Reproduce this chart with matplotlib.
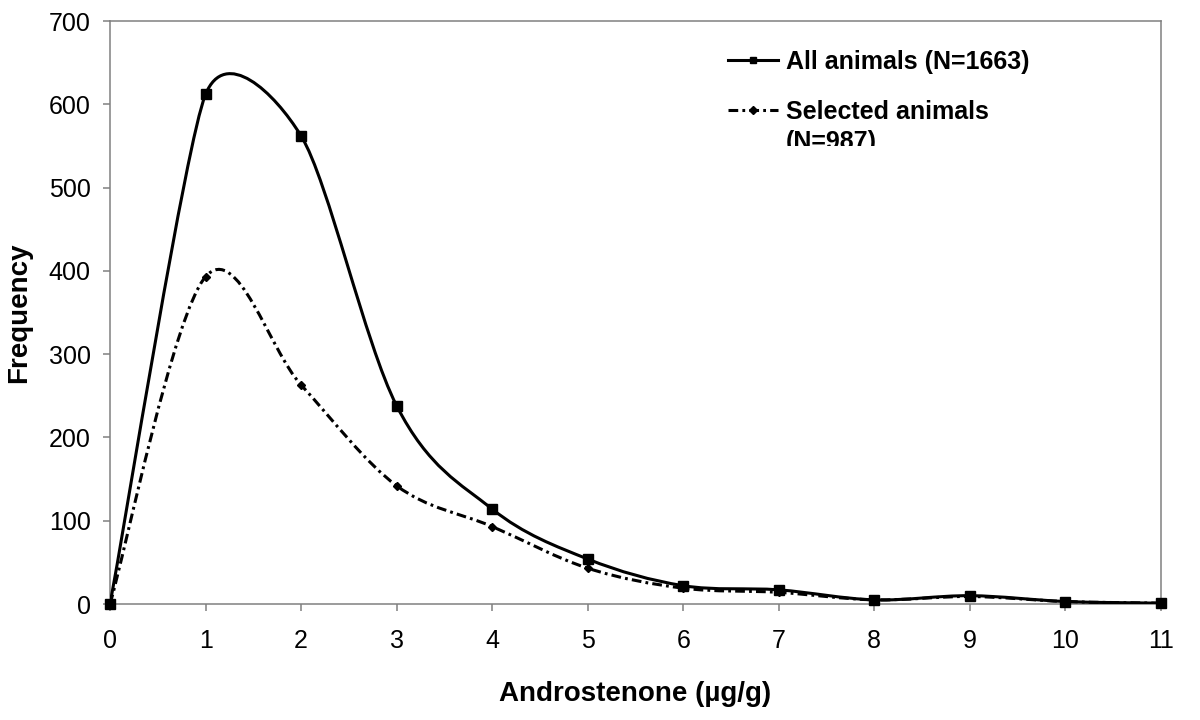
import numpy as np
import matplotlib
matplotlib.use('Agg')
import matplotlib.pyplot as plt
from matplotlib.path import Path
from matplotlib.patches import PathPatch, Rectangle
from matplotlib.lines import Line2D

# data
androstenone = [0, 1, 2, 3, 4, 5, 6, 7, 8, 9, 10, 11]
all_animals = [0, 612, 562, 238, 114, 54, 22, 17, 5, 10, 3, 1]
selected_animals = [0, 393, 263, 142, 93, 43, 19, 14, 5, 9, 3, 1]

plt.rcParams['font.family'] = ['Liberation Sans', 'DejaVu Sans']
plt.rcParams['lines.scale_dashes'] = False


def smooth_path(ax, x, y):
    # excel-like smoothed line, bezier arms worked out in screen space
    pts = ax.transData.transform(np.column_stack([x, y]).astype(float))
    n = len(pts)
    arms = []
    for i in range(n):
        pa = pts[max(i - 1, 0)]
        pb = pts[min(i + 1, n - 1)]
        d02 = np.hypot(*(pb - pa))
        s = 1 / 6
        if d02 > 0:
            if i > 0:
                s = min(s, np.hypot(*(pts[i] - pa)) / (2 * d02))
            if i < n - 1:
                s = min(s, np.hypot(*(pb - pts[i])) / (2 * d02))
        arms.append((pb - pa) * s)
    verts = [pts[0]]
    codes = [Path.MOVETO]
    for i in range(n - 1):
        verts += [pts[i] + arms[i], pts[i + 1] - arms[i + 1], pts[i + 1]]
        codes += [Path.CURVE4] * 3
    verts = ax.transData.inverted().transform(np.array(verts))
    return Path(verts, codes)


dash = (0, (7, 3, 2, 3))
lw = 2.2

fig = plt.figure(figsize=(12, 7.2), dpi=100)
ax = fig.add_axes([0.0917, 0.1611, 0.8758, 0.8097])
ax.set_xlim(0, 11)
ax.set_ylim(0, 700)

ax.add_patch(PathPatch(smooth_path(ax, androstenone, selected_animals), fill=False,
                       edgecolor='black', linewidth=lw, linestyle=dash, zorder=3))
ax.plot(androstenone, selected_animals, linestyle='none', marker='D',
        markersize=4.5, color='black', zorder=4, clip_on=False)

ax.add_patch(PathPatch(smooth_path(ax, androstenone, all_animals), fill=False,
                       edgecolor='black', linewidth=lw, zorder=5))
ax.plot(androstenone, all_animals, linestyle='none', marker='s',
        markersize=6.5, color='black', zorder=6, clip_on=False)

ax.set_xticks(range(0, 12))
ax.set_yticks(range(0, 701, 100))

for s in ax.spines.values():
    s.set_color('#808080')
    s.set_linewidth(1.1)
ax.tick_params(axis='both', direction='out', length=5, width=1.1,
               color='#808080', labelsize=18)
ax.tick_params(axis='x', pad=13)
ax.tick_params(axis='y', pad=9)

ax.set_xlabel('Androstenone (µg/g)', fontsize=20, fontweight='bold', labelpad=20)
ax.set_ylabel('Frequency', fontsize=20, fontweight='bold', labelpad=12)

h1 = Line2D([], [], color='black', linewidth=lw, marker='s', markersize=5)
h2 = Line2D([], [], color='black', linewidth=lw, linestyle=dash,
            marker='D', markersize=4)
leg = fig.legend([h1, h2], ['All animals (N=1663)', 'Selected animals'],
                 loc='upper left', bbox_to_anchor=(0.6067, 0.931), frameon=False,
                 prop={'size': 18, 'weight': 'bold'}, handlelength=2.0,
                 handletextpad=0.3, labelspacing=1.05, numpoints=1,
                 borderaxespad=0, borderpad=0)

# second line of the legend label, cut off at the bottom like the original
t = fig.text(0.655, 0.793, '(N=987)', fontsize=18, fontweight='bold',
             va='baseline')
clip = Rectangle((0.6, 1 - 146 / 720), 0.4, 0.2, transform=fig.transFigure)
t.set_clip_path(clip)

fig.savefig('out.png', dpi=100)
